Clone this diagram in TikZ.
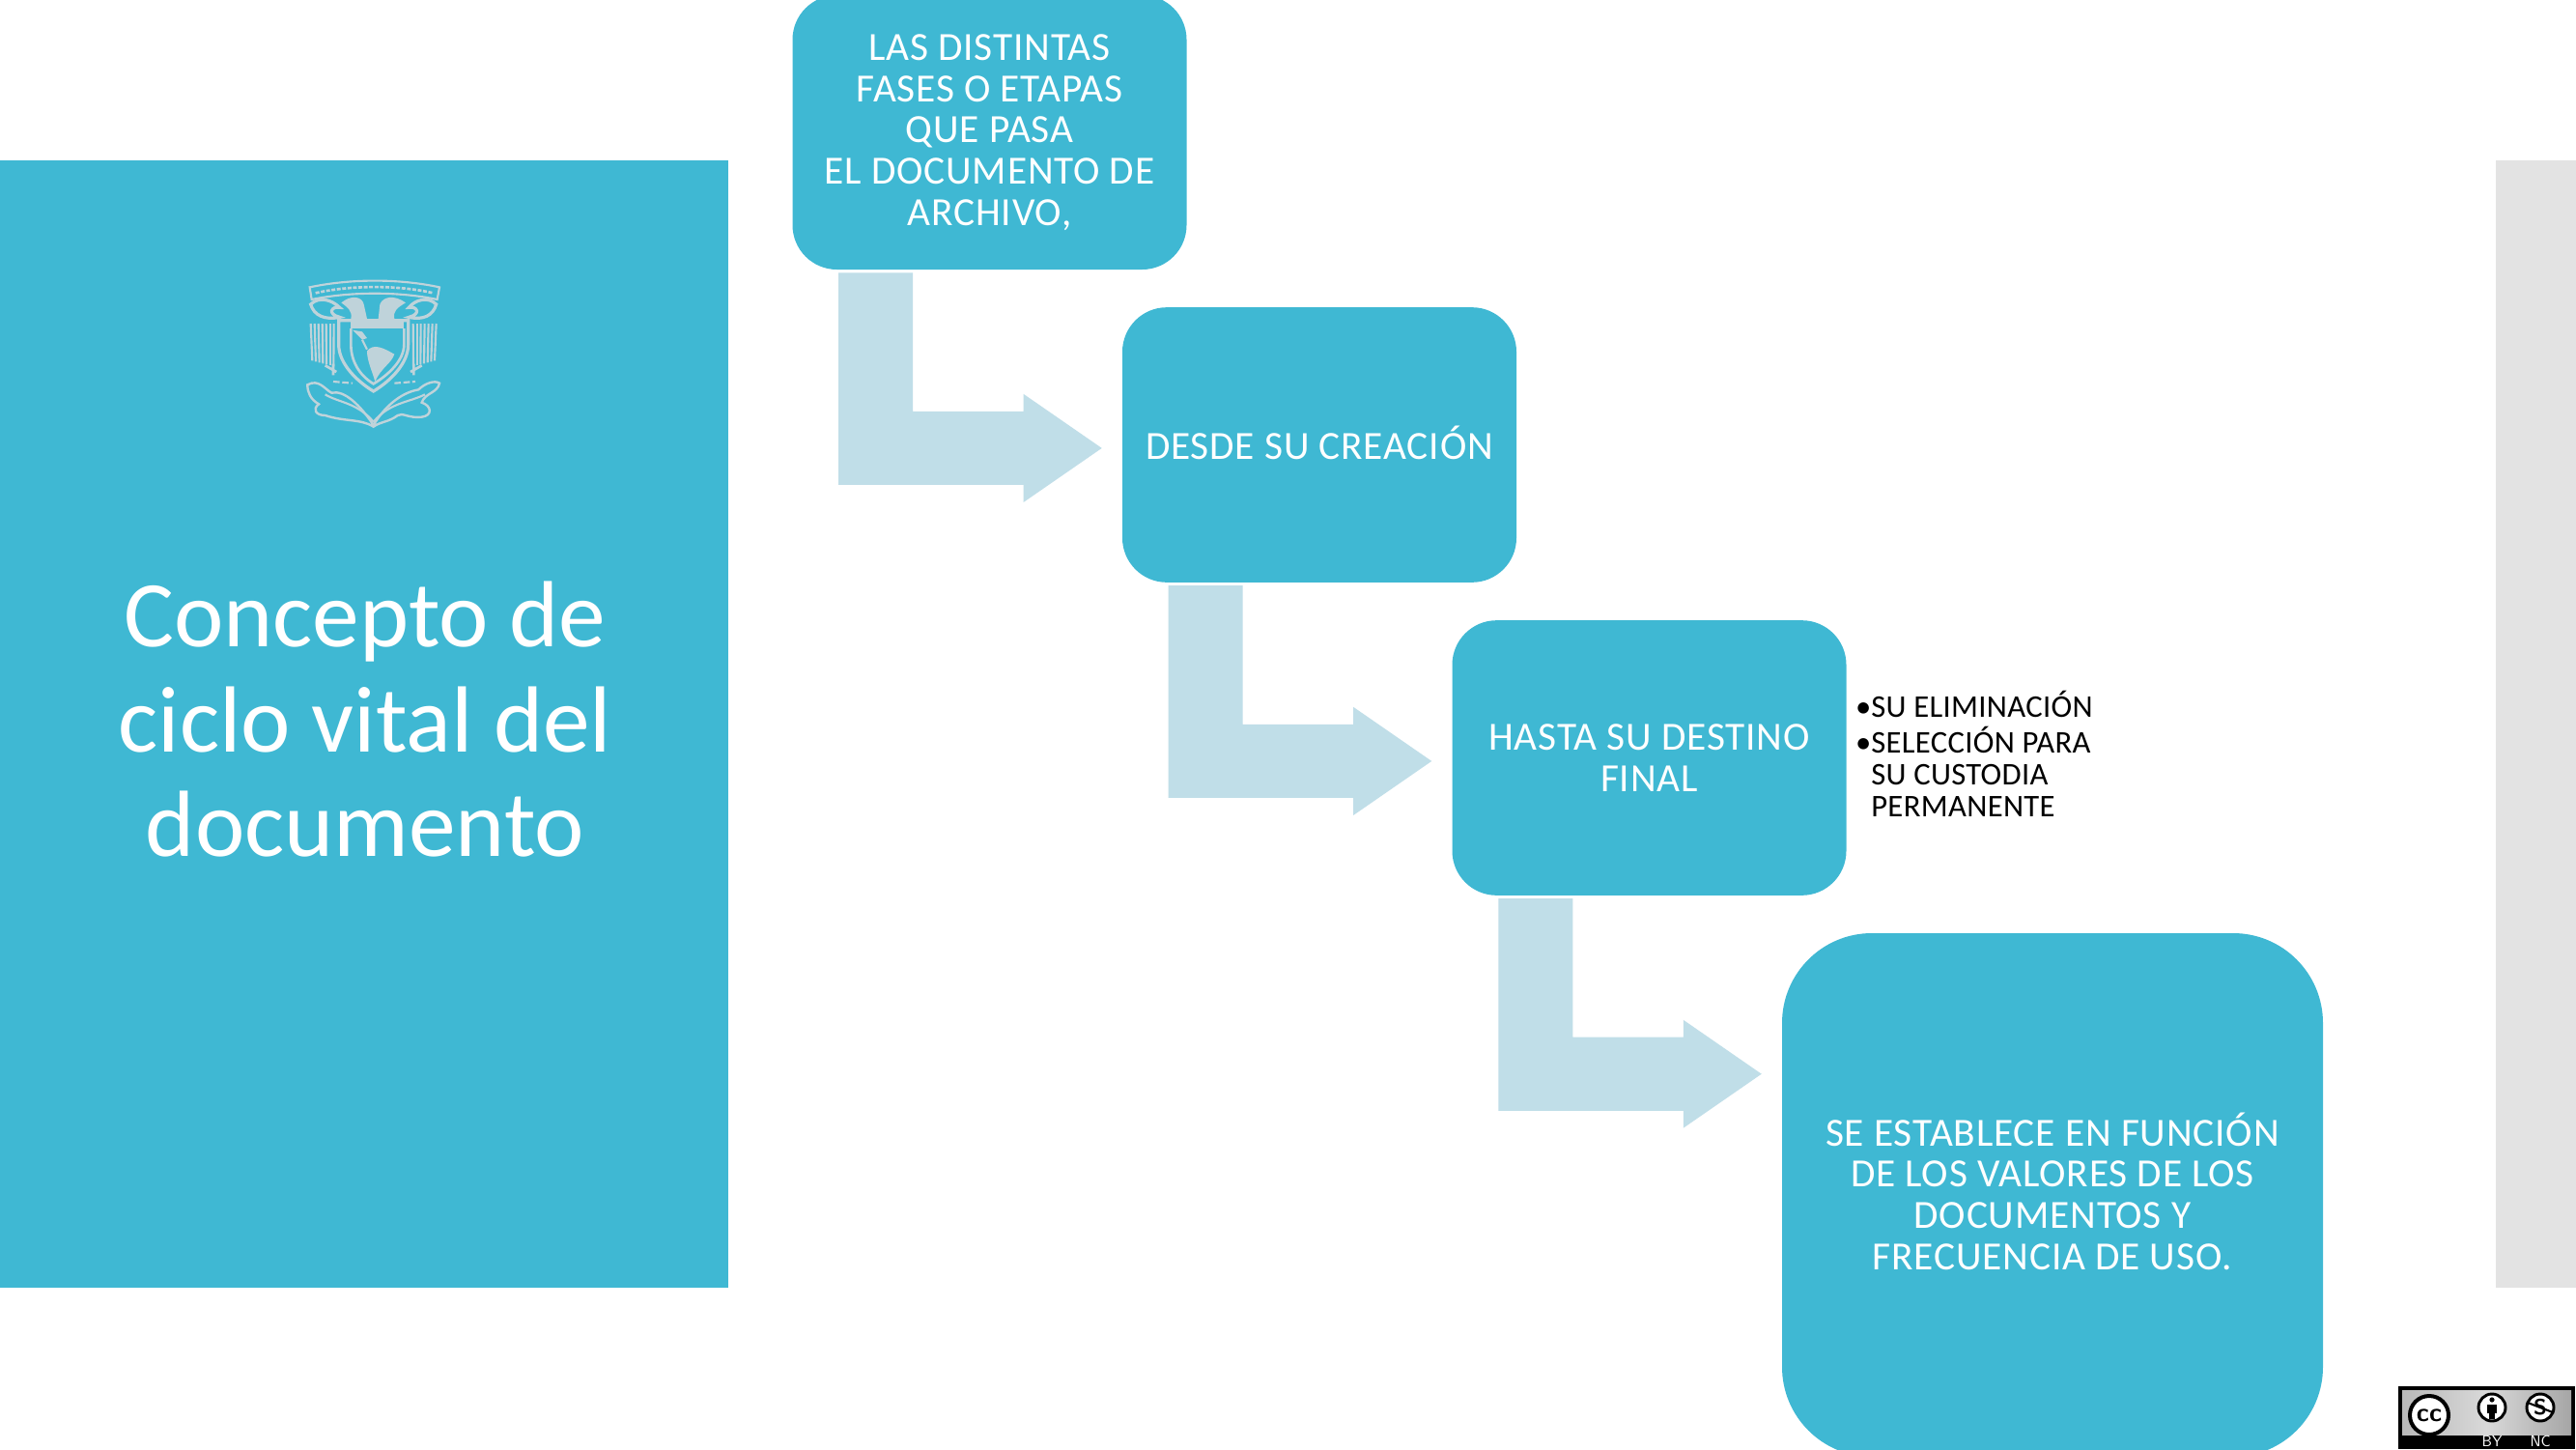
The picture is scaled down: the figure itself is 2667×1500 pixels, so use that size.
\documentclass[tikz,border=0pt]{standalone}
\usepackage{fontspec}
\setmainfont{Carlito}
\newfontfamily\boxfont[LetterSpace=2]{Carlito}
\newfontfamily\listfont[LetterSpace=1]{Carlito}
\usetikzlibrary{calc}
\definecolor{panel}{HTML}{3FB8D3}
\definecolor{arrowc}{HTML}{C0DEE8}
\definecolor{sidec}{HTML}{E3E3E3}
\definecolor{crest}{HTML}{BFD3DA}
\newcommand{\blockarrow}[2]{%
  \fill[arrowc] ($(#1.south west)+(48,3)$) coordinate (s)
    -- ++(77,0) |- ($(#2.north west)+(-102,108)$)
    -- ($(#2.north west)+(-102,90)$)
    -- ($(#2.north west)+(-21,146)$)
    -- ($(#2.north west)+(-102,202)$)
    -- ($(#2.north west)+(-102,184)$)
    -| (s) -- cycle;}
\tikzset{
  stepbox/.style={fill=panel,text=white,rounded corners=#1*0.75pt,inner sep=0pt,align=center,
    font=\boxfont\fontsize{31}{32}\selectfont,minimum width=306pt},
  stepbox/.default=46,
  steptext/.style={text=white,inner sep=0pt,align=center,font=\boxfont\fontsize{31}{32}\selectfont},
  titleline/.style={text=white,font=\fontsize{73}{81}\selectfont,inner sep=0pt,anchor=base},
  badgecirc/.style={circle,draw=black,fill=white,inner sep=0pt},
  badgetext/.style={text=white,inner sep=0pt,font=\sffamily\fontsize{12}{12}\selectfont},
}
\begin{document}
\begin{tikzpicture}[x=0.75pt,y=-0.75pt]
\useasboundingbox (0,0) rectangle (2667,1500);
\clip (0,0) rectangle (2667,1500);
\fill[white] (0,0) rectangle (2667,1500);
\fill[panel] (0,166) rectangle (754,1333);
\fill[sidec] (2584,166) rectangle (2667,1333);
% title
\node[titleline] (t1) at (378,669) {Concepto de};
\node[titleline] (t2) at (378,778) {ciclo vital del};
\node[titleline] (t3) at (378,886) {documento};
% crest
\begin{scope}[shift={(280,260)},x=0.25pt,y=-0.25pt,crest,line width=1pt]
  \draw[line width=1.6pt] (122,112) .. controls (250,85) and (400,85) .. (525,112) -- (518,150) .. controls (400,125) and (250,125) .. (128,150) -- cycle;
  \draw[line width=2pt,dash pattern=on 3pt off 1.2pt] (140,130) .. controls (250,105) and (400,105) .. (505,130);
  \fill (220,160) .. controls (250,135) and (285,140) .. (290,165) -- (300,210) -- (250,210) .. controls (255,185) and (240,175) .. (220,160) -- cycle;
  \fill (420,160) .. controls (385,135) and (350,140) .. (340,165) -- (335,210) -- (385,210) .. controls (380,185) and (395,175) .. (420,160) -- cycle;
  \draw[line width=2.4pt] (125,165) .. controls (150,140) and (190,150) .. (215,175) .. controls (190,170) and (175,195) .. (215,205) .. controls (170,215) and (135,200) .. (125,165) -- cycle;
  \draw[line width=2.4pt] (515,165) .. controls (490,140) and (450,150) .. (430,175) .. controls (455,170) and (470,195) .. (430,205) .. controls (475,215) and (505,200) .. (515,165) -- cycle;
  \foreach \i in {0,...,6} {
    \draw[line width=1.6pt] (125+\i*12,225) -- (130+\i*11,340+\i*3);
    \draw[line width=1.6pt] (515-\i*12,225) -- (510-\i*11,340+\i*3);
  }
  \draw[line width=2pt] (170,355) -- (205,375) (195,350) -- (195,385);
  \draw[line width=2pt] (470,355) -- (435,375) (445,350) -- (445,385);
  \draw[line width=2.4pt] (212,215) -- (428,215) -- (428,290) .. controls (428,350) and (370,405) .. (320,435) .. controls (270,405) and (212,350) .. (212,290) -- cycle;
  \fill (250,213) rectangle (415,240);
  \fill[panel] (250,240) -- (415,240) -- (415,290) .. controls (415,340) and (365,385) .. (320,412) .. controls (275,385) and (250,340) .. (250,290) -- cycle;
  \draw[line width=2pt] (250,240) -- (250,290) .. controls (250,340) and (275,385) .. (320,412) .. controls (365,385) and (415,340) .. (415,290) -- (415,240);
  \fill (255,245) -- (285,250) -- (300,270) -- (285,275) -- (275,265) -- cycle;
  \fill (300,310) .. controls (320,285) and (350,300) .. (385,320) .. controls (375,350) and (345,360) .. (325,405) .. controls (315,370) and (300,340) .. (300,310) -- cycle;
  \draw[line width=1.6pt] (285,275) -- (300,305);
  \draw[line width=1.8pt] (115,415) .. controls (150,395) and (170,430) .. (190,440) .. controls (230,430) and (280,480) .. (320,540) .. controls (350,490) and (400,440) .. (460,430) .. controls (480,410) and (510,400) .. (525,410) .. controls (520,440) and (480,440) .. (470,470) .. controls (500,480) and (505,510) .. (470,515) .. controls (430,520) and (410,500) .. (395,510) .. controls (370,530) and (340,530) .. (320,545) .. controls (280,520) and (230,530) .. (170,510) .. controls (140,510) and (130,490) .. (150,475) .. controls (125,460) and (115,440) .. (115,415) -- cycle;
  \draw[line width=1.6pt] (170,445) .. controls (210,470) and (270,470) .. (320,530);
  \draw[line width=1.6pt] (480,445) .. controls (430,470) and (370,470) .. (320,530);
  \draw[line width=1.6pt,dash pattern=on 5pt off 2pt] (195,405) -- (255,410) (385,410) -- (450,405);
\end{scope}
% boxes
\node[stepbox,minimum height=213pt] (b1) at (1024.5,137) {LAS DISTINTAS\\FASES O ETAPAS\\QUE PASA\\EL DOCUMENTO DE\\ARCHIVO,};
\node[stepbox,minimum height=213.5pt] (b2) at (1366,460.5) {\raisebox{4pt}{DESDE SU CREACIÓN}};
\node[stepbox,minimum height=213.5pt] (b3) at (1707.5,784.5) {HASTA SU DESTINO\\FINAL};
\node[stepbox=93,minimum width=420pt,minimum height=406.5pt] (b4) at (2125,1237) {};
\node[steptext] (b4text) at ($(b4.center)+(0,-4)$) {SE ESTABLECE EN FUNCIÓN\\DE LOS VALORES DE LOS\\DOCUMENTOS Y\\FRECUENCIA DE USO.};
% connectors
\blockarrow{b1}{b2}
\blockarrow{b2}{b3}
\blockarrow{b3}{b4}
% bullets
\node[anchor=north west,inner sep=0pt,align=left,text=black,font=\listfont\fontsize{24.5}{25}\selectfont] (list) at (1937,715)
  {\llap{•}SU ELIMINACIÓN\\[2.5pt]\llap{•}SELECCIÓN PARA\\SU CUSTODIA\\PERMANENTE};
% licence badge
\path[fill=black] (2483,1435) rectangle (2666,1500);
\path[left color=gray!55,right color=gray!70,middle color=gray!30] (2487,1439) rectangle (2662,1485);
\node[badgecirc,line width=3pt,minimum size=30pt,font=\sffamily\bfseries\fontsize{20}{20}\selectfont] (cc) at (2515,1465) {cc};
\node[badgecirc,line width=2.2pt,minimum size=21pt] (by) at (2580,1457) {};
\node[badgecirc,line width=2.2pt,minimum size=21pt,font=\sffamily\bfseries\fontsize{17}{17}\selectfont] (nc) at (2630,1457) {S};
\fill[black] (by)+(0,-8) circle (2.6);
\fill[black] ($(by)+(-5,-3)$) rectangle ($(by)+(5,6)$);
\fill[black] ($(by)+(-3,6)$) rectangle ($(by)+(3,12)$);
\draw[black,line width=1.6pt] ($(nc)+(-13,-5)$) -- ($(nc)+(13,5)$);
\node[badgetext] (bylabel) at (2580,1492) {BY};
\node[badgetext] (nclabel) at (2630,1492) {NC};
\end{tikzpicture}
\end{document}
